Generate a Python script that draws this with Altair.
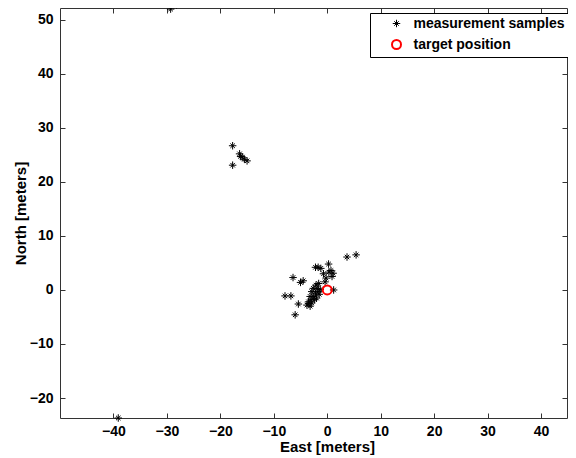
import altair as alt
import pandas as pd

# measurement samples (East, North) in meters
east_samples = [-29.3, -28.2, -17.7, -17.7, -16.4, -16.2, -15.9, -15.5, -15.0, -39.1,
                3.7, 5.4, -6.4, -5.0, -4.5, -2.2, -1.7, -1.2, 0.25, -0.7,
                0.7, 1.1, 0.9, -0.4, -2.1, -2.6, -1.9, -2.9, -2.2, -1.7,
                -3.2, -2.6, -2.0, -3.5, -2.9, -3.8, -3.2, -5.4, -7.9, -6.8,
                -6.0, 1.2, -1.3, -1.6, -2.4, -3.0, -3.4, -1.5, 0.3, -0.2]
north_samples = [52.0, 52.8, 26.7, 23.1, 25.2, 24.7, 24.6, 24.2, 23.9, -23.7,
                 6.1, 6.5, 2.3, 1.4, 1.7, 4.2, 4.2, 4.0, 4.8, 3.0,
                 3.6, 3.1, 2.5, 1.5, 0.9, 0.3, 0.3, -0.3, -0.6, -0.3,
                 -1.2, -1.2, -1.5, -2.2, -2.4, -2.8, -3.0, -2.6, -1.1, -1.1,
                 -4.6, 0.0, 0.1, 1.2, -1.8, -1.8, -2.5, -0.8, 3.3, 2.2]
target_east = [0.0]
target_north = [0.0]
series_names = ["measurement samples", "target position"]
x_ticks = [-40, -30, -20, -10, 0, 10, 20, 30, 40]
y_ticks = [-20, -10, 0, 10, 20, 30, 40, 50]

df = pd.DataFrame({
    "east": east_samples + target_east,
    "north": north_samples + target_north,
    "series": [series_names[0]] * len(east_samples) + [series_names[1]] * len(target_east),
})

star = "M-1,0L1,0M0,-1L0,1M-0.6,-0.6L0.6,0.6M-0.6,0.6L0.6,-0.6"

xscale = alt.Scale(domain=[-50, 44.86], nice=False, zero=False)
yscale = alt.Scale(domain=[-23.7, 52.2], nice=False, zero=False)

FONT = "Liberation Sans"

axes_layer = alt.Chart(df).mark_point(opacity=0).encode(
    x=alt.X("east:Q", scale=xscale,
            axis=alt.Axis(orient="top", values=x_ticks, labels=False, title=None,
                          offset=-5, tickSize=5, domain=False, grid=False)),
    y=alt.Y("north:Q", scale=yscale,
            axis=alt.Axis(orient="right", values=y_ticks, labels=False, title=None,
                          offset=-5, tickSize=5, domain=False, grid=False)),
)

pts = alt.Chart(df).mark_point(filled=False, clip=False, opacity=1).encode(
    x=alt.X("east:Q", scale=xscale,
            axis=alt.Axis(orient="bottom", values=x_ticks, title="East [meters]",
                          offset=-5, tickSize=5, domain=False, grid=False,
                          labelPadding=6, titlePadding=1, titleX=267)),
    y=alt.Y("north:Q", scale=yscale,
            axis=alt.Axis(orient="left", values=y_ticks, title="North [meters]",
                          offset=-5, tickSize=5, domain=False, grid=False,
                          labelPadding=7, titlePadding=1)),
    shape=alt.Shape("series:N", scale=alt.Scale(domain=series_names, range=[star, "circle"]),
                    legend=alt.Legend(title=None)),
    color=alt.Color("series:N", scale=alt.Scale(domain=series_names, range=["black", "#ff0000"]),
                    legend=alt.Legend(title=None)),
    size=alt.Size("series:N", scale=alt.Scale(domain=series_names, range=[56, 81]),
                  legend=alt.Legend(title=None)),
    strokeWidth=alt.StrokeWidth("series:N", scale=alt.Scale(domain=series_names, range=[1.0, 2]),
                                legend=alt.Legend(title=None)),
)

chart = alt.layer(axes_layer, pts).properties(
    width=507, height=410,
    autosize=alt.AutoSizeParams(type="none"),
    padding={"left": 52, "top": 0, "right": 1, "bottom": 40},
    background="white",
).configure_view(
    stroke="#333333", strokeWidth=1
).configure_axis(
    labelFont=FONT, labelFontWeight="bold", labelFontSize=14, labelColor="black",
    titleFont=FONT, titleFontWeight="bold", titleFontSize=15, titleColor="black",
    tickColor="#333333", tickWidth=1,
).configure_legend(
    orient="none", legendX=310, legendY=5,
    strokeColor="black", fillColor="white", padding=3.5,
    labelFont=FONT, labelFontWeight="bold", labelFontSize=14, labelColor="black",
    symbolOffset=16, labelOffset=10, rowPadding=5,
)

chart.save("out.html", embed_options={"renderer": "svg", "actions": False})
